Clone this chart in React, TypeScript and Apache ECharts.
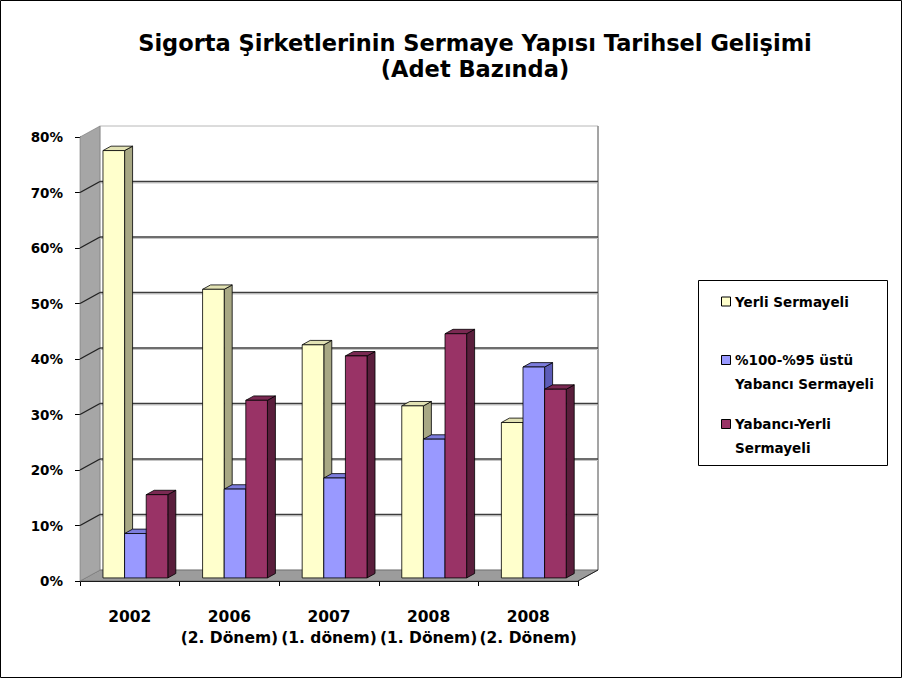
import React, { useEffect, useRef } from "react";
import * as echarts from "echarts";

const categories = ["2002", "2006\n(2. Dönem)", "2007\n(1. dönem)", "2008\n(1. Dönem)", "2008\n(2. Dönem)"];
const seriesNames = ["Yerli Sermayeli", "%100-%95 üstü Yabancı Sermayeli", "Yabancı-Yerli Sermayeli"];
const legendLines = [["Yerli Sermayeli"], ["%100-%95 üstü", "Yabancı Sermayeli"], ["Yabancı-Yerli", "Sermayeli"]];
const yerliSermayeli = [77, 52, 42, 31, 28];
const yabanciSermayeli = [8, 16, 18, 25, 38];
const yabanciYerliSermayeli = [15, 32, 40, 44, 34];
const yMin = 0;
const yMax = 80;
const yStep = 10;

const FONT = "'DejaVu Sans', 'Noto Sans', sans-serif";
const palette = [
  { front: "#FFFFCC", side: "#A8A884", top: "#E2E2B4" },
  { front: "#9999FF", side: "#5C5CB8", top: "#7C7CDC" },
  { front: "#993366", side: "#5A1E3C", top: "#7A2952" },
];
const D = { x: 20, y: -11 };
const T0 = 0.28;
const T1 = 0.68;

function makeBarRender(k: number) {
  return (params: any, api: any) => {
    const i = api.value(0);
    const v = api.value(1);
    const top = api.coord([i, v]);
    const base = api.coord([i, 0]);
    const catW = api.size([1, 0])[0];
    const bw = catW * 0.217;
    const x0 = top[0] + D.x * T0 + (k - 1.5) * bw;
    const x1 = x0 + bw;
    const yT = top[1] + D.y * T0;
    const yB = base[1] + D.y * T0;
    const dx = D.x * (T1 - T0);
    const dy = D.y * (T1 - T0);
    const c = palette[k];
    const st = { stroke: "#000", lineWidth: 0.8 };
    return {
      type: "group",
      children: [
        { type: "polygon", shape: { points: [[x1, yT], [x1 + dx, yT + dy], [x1 + dx, yB + dy], [x1, yB]] }, style: { fill: c.side, ...st } },
        { type: "polygon", shape: { points: [[x0, yT], [x1, yT], [x1 + dx, yT + dy], [x0 + dx, yT + dy]] }, style: { fill: c.top, ...st } },
        { type: "rect", shape: { x: x0, y: yT, width: bw, height: yB - yT }, style: { fill: c.front, ...st } },
      ],
    };
  };
}

function renderWalls(params: any, api: any) {
  const cs = params.coordSys;
  const L = cs.x, R = cs.x + cs.width, T = cs.y, B = cs.y + cs.height;
  const children: any[] = [];
  children.push({ type: "rect", shape: { x: L + D.x, y: T + D.y, width: R - L, height: B - T }, style: { fill: "#fff", stroke: "#b8b8b8", lineWidth: 1 } });
  children.push({ type: "line", shape: { x1: R + D.x, y1: T + D.y, x2: R + D.x, y2: B + D.y }, style: { stroke: "#808080", lineWidth: 1.2 } });
  children.push({ type: "polygon", shape: { points: [[L, B], [L + D.x, B + D.y], [R + D.x, B + D.y], [R, B]] }, style: { fill: "#9c9c9c", stroke: "#555", lineWidth: 0.6 } });
  children.push({ type: "polygon", shape: { points: [[L, T], [L + D.x, T + D.y], [L + D.x, B + D.y], [L, B]] }, style: { fill: "#a6a6a6", stroke: "#777", lineWidth: 0.6 } });
  for (let t = yMin + yStep; t < yMax; t += yStep) {
    const yf = api.coord([0, t])[1];
    children.push({ type: "line", shape: { x1: L + D.x, y1: yf + D.y + 1.5, x2: R + D.x, y2: yf + D.y + 1.5 }, style: { stroke: "#c4c4c4", lineWidth: 1 } });
    children.push({ type: "line", shape: { x1: L + D.x, y1: yf + D.y, x2: R + D.x, y2: yf + D.y }, style: { stroke: "#3c3c3c", lineWidth: 1.6 } });
    children.push({ type: "line", shape: { x1: L, y1: yf, x2: L + D.x, y2: yf + D.y }, style: { stroke: "#222", lineWidth: 1.4 } });
  }
  children.push({ type: "line", shape: { x1: R, y1: B, x2: R + D.x, y2: B + D.y }, style: { stroke: "#222", lineWidth: 1 } });
  return { type: "group", children };
}

export default function App() {
  const ref = useRef<HTMLDivElement>(null);
  useEffect(() => {
    const chart = echarts.init(ref.current!, null, { renderer: "svg" });
    const legendGraphics: any[] = [
      { type: "rect", shape: { x: 698.5, y: 280.5, width: 189, height: 185 }, style: { fill: "#fff", stroke: "#000", lineWidth: 1 } },
    ];
    const itemTops = [301.5, 360, 424];
    legendLines.forEach((lines, k) => {
      legendGraphics.push({ type: "rect", shape: { x: 721.5, y: itemTops[k] - 4.5, width: 9, height: 9 }, style: { fill: palette[k].front, stroke: "#000", lineWidth: 1 } });
      lines.forEach((ln, j) => {
        legendGraphics.push({
          type: "text",
          x: 735,
          y: itemTops[k] + j * 24,
          style: { text: ln, fontFamily: FONT, fontSize: 13.5, fontWeight: "bold", fill: "#000", textVerticalAlign: "middle", textAlign: "left" },
        });
      });
    });
    const seriesData = [yerliSermayeli, yabanciSermayeli, yabanciYerliSermayeli];
    chart.setOption({
      animation: false,
      backgroundColor: "#fff",
      title: {
        text: "Sigorta Şirketlerinin Sermaye Yapısı Tarihsel Gelişimi\n(Adet Bazında)",
        left: 470,
        top: 25,
        textAlign: "center",
        textStyle: { fontFamily: FONT, fontSize: 22.5, fontWeight: "bold", color: "#000", lineHeight: 26 },
      },
      grid: { left: 80, right: 325, top: 137, bottom: 98 },
      xAxis: {
        type: "category",
        data: categories,
        axisLine: { show: true, lineStyle: { color: "#000", width: 1 } },
        axisTick: { show: true, length: 5, lineStyle: { color: "#000" } },
        axisLabel: { fontFamily: FONT, fontSize: 15.5, fontWeight: "bold", color: "#000", lineHeight: 21, margin: 25, interval: 0 },
        splitLine: { show: false },
      },
      yAxis: {
        type: "value",
        min: yMin,
        max: yMax,
        interval: yStep,
        axisLine: { show: true, lineStyle: { color: "#000", width: 1 } },
        axisTick: { show: true, length: 5, lineStyle: { color: "#000" } },
        axisLabel: { formatter: "{value}%", fontFamily: FONT, fontSize: 13.5, fontWeight: "bold", color: "#000", margin: 17 },
        splitLine: { show: false },
      },
      series: [
        { type: "custom", name: "walls", renderItem: renderWalls, data: [[0, 0]], clip: false, silent: true, z: 1 },
        ...seriesData.map((arr, k) => ({
          type: "custom",
          name: seriesNames[k],
          renderItem: makeBarRender(k),
          data: arr.map((v, i) => [i, v]),
          clip: false,
          z: 3,
        })),
      ],
      graphic: [
        { type: "rect", shape: { x: 0.5, y: 0.5, width: 901, height: 677 }, style: { fill: "none", stroke: "#000", lineWidth: 1 }, z: 100 },
        ...legendGraphics,
      ],
    });
    return () => chart.dispose();
  }, []);
  return <div ref={ref} style={{ position: "absolute", left: 0, top: 0, width: 903, height: 679 }} />;
}
